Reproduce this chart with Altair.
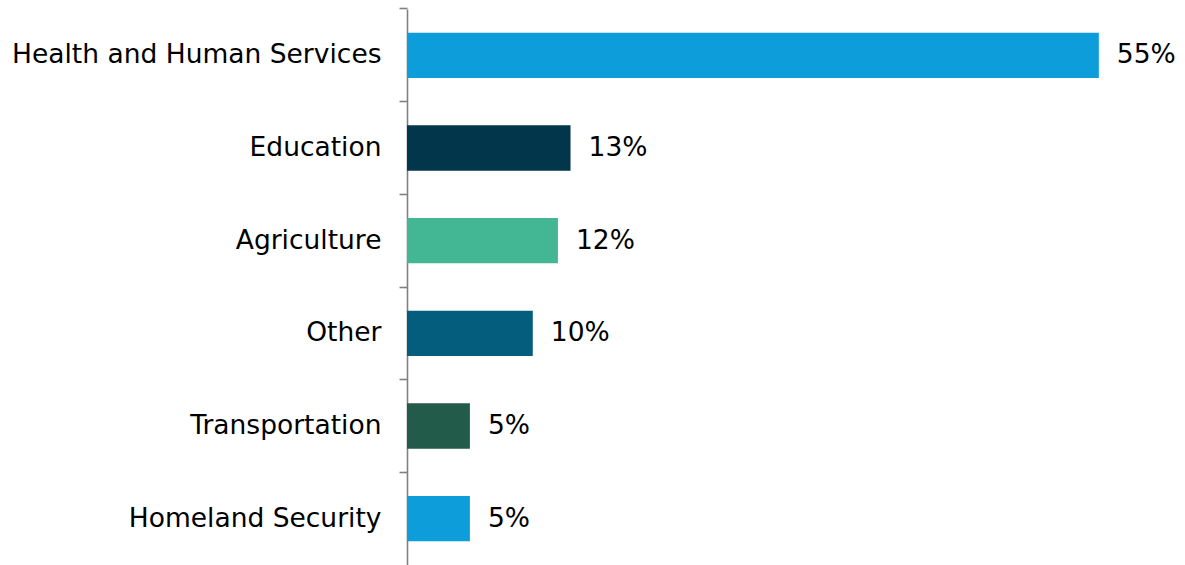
import altair as alt
import pandas as pd

categories = ["Health and Human Services", "Education", "Agriculture", "Other",
              "Transportation", "Homeland Security"]
values = [55, 13, 12, 10, 5, 5]
labels = ["55%", "13%", "12%", "10%", "5%", "5%"]
colors = ["#0C9DDA", "#02364A", "#43B794", "#055D7D", "#225B4A", "#0C9DDA"]

df = pd.DataFrame({"cat": categories, "val": values, "lab": labels, "col": colors})

FONT = "DejaVu Sans"
FS = 26.5
P = 0.51

y = alt.Y("cat:N", sort=categories, title=None,
          scale=alt.Scale(paddingInner=P, paddingOuter=P / 2),
          axis=alt.Axis(bandPosition=-(P / 2) / (1 - P), domainColor="#808080", domainWidth=1.6,
                        tickColor="#808080", tickWidth=1.6, tickSize=8,
                        labelFont=FONT, labelFontSize=FS, labelColor="#000000",
                        labelPadding=18, labelLimit=400))
x = alt.X("val:Q", title=None, scale=alt.Scale(domain=[0, 61.85], nice=False, zero=True),
          axis=None)

bars = alt.Chart(df).mark_bar().encode(x=x, y=y, color=alt.Color("col:N", scale=None))
text = alt.Chart(df).mark_text(align="left", baseline="middle", dx=18, font=FONT,
                               fontSize=FS, color="#000000").encode(x=x, y=y, text="lab:N")

chart = (bars + text).properties(
    width=778, height=556,
    autosize=alt.AutoSizeParams(type="none"),
    padding={"left": 407, "top": 9, "right": 0, "bottom": 0},
).configure_view(stroke=None)

chart.save("out.html", embed_options={"renderer": "svg", "actions": False})
